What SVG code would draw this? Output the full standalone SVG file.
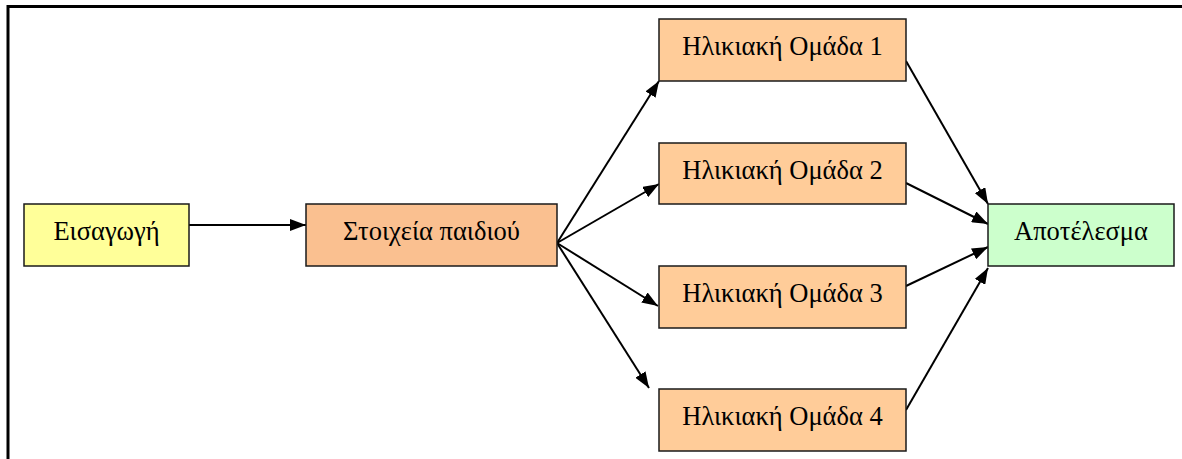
<svg xmlns="http://www.w3.org/2000/svg" width="1182" height="459" viewBox="0 0 1182 459">
  <style>
    .box { stroke: #1a1a1a; stroke-width: 1.5; }
    .label { font-family: "Liberation Serif", "Times New Roman", serif; font-size: 26.5px; fill: #000; text-anchor: middle; }
    .edge { stroke: #000; stroke-width: 2; fill: none; marker-end: url(#arrow); }
    .frame { stroke: #000; stroke-width: 3; fill: none; }
  </style>
  <defs>
    <marker id="arrow" viewBox="0 0 16 12" refX="16" refY="6" markerWidth="16" markerHeight="12" markerUnits="userSpaceOnUse" orient="auto">
      <path d="M0,0 L16,6 L0,12 Z" fill="#000"/>
    </marker>
  </defs>

  <rect width="1182" height="459" fill="#fff"/>
  <!-- outer frame: top and left edges -->
  <path class="frame" d="M8,459 L8,6.5 L1182,6.5"/>

  <g id="connectors">
    <line class="edge" x1="189" y1="225" x2="306" y2="225"/>
    <line class="edge" x1="557" y1="243" x2="659" y2="81"/>
    <line class="edge" x1="557" y1="243" x2="659" y2="184"/>
    <line class="edge" x1="557" y1="243" x2="658" y2="306"/>
    <line class="edge" x1="557" y1="243" x2="649" y2="388"/>
    <line class="edge" x1="906" y1="61" x2="988" y2="204"/>
    <line class="edge" x1="906" y1="183" x2="988" y2="224"/>
    <line class="edge" x1="906" y1="286" x2="988" y2="247"/>
    <line class="edge" x1="906" y1="410" x2="988" y2="268"/>
  </g>

  <g id="input">
    <rect class="box" x="24" y="204" width="165" height="62" fill="#FFFF99"/>
    <text class="label" x="106.5" y="240">Εισαγωγή</text>
  </g>
  <g id="child-data">
    <rect class="box" x="306" y="204" width="251" height="62" fill="#FAC090"/>
    <text class="label" x="431.5" y="240">Στοιχεία παιδιού</text>
  </g>
  <g id="age-group-1">
    <rect class="box" x="659" y="19" width="247" height="62" fill="#FFCC99"/>
    <text class="label" x="782.5" y="55">Ηλικιακή Ομάδα 1</text>
  </g>
  <g id="age-group-2">
    <rect class="box" x="659" y="143" width="247" height="61" fill="#FFCC99"/>
    <text class="label" x="782.5" y="179">Ηλικιακή Ομάδα 2</text>
  </g>
  <g id="age-group-3">
    <rect class="box" x="659" y="266" width="247" height="62" fill="#FFCC99"/>
    <text class="label" x="782.5" y="302">Ηλικιακή Ομάδα 3</text>
  </g>
  <g id="age-group-4">
    <rect class="box" x="659" y="389" width="247" height="62" fill="#FFCC99"/>
    <text class="label" x="782.5" y="425">Ηλικιακή Ομάδα 4</text>
  </g>
  <g id="result">
    <rect class="box" x="988" y="204" width="186" height="62" fill="#CCFFCC"/>
    <text class="label" x="1081" y="240">Αποτέλεσμα</text>
  </g>
</svg>
